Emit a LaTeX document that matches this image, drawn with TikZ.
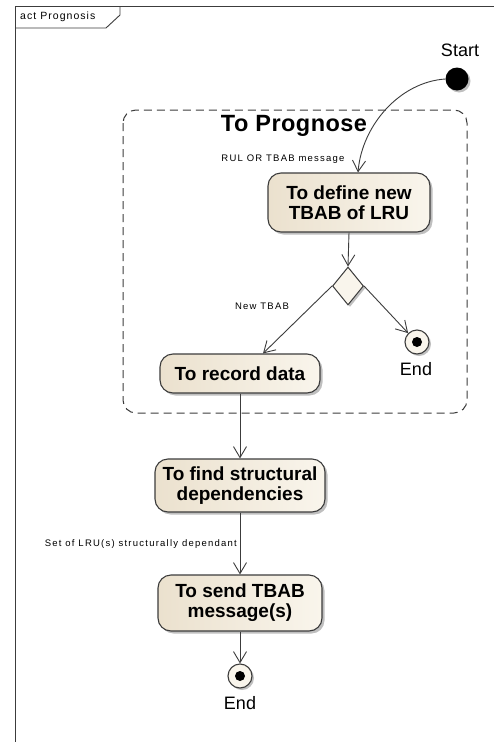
\documentclass[tikz,border=0pt]{standalone}
\usepackage{fontspec}
\setmainfont{Liberation Sans}
\usetikzlibrary{arrows.meta,shapes.geometric,shadows,calc}
\definecolor{boxdark}{HTML}{EBE1CE}
\definecolor{boxlight}{HTML}{F9F5EC}
\definecolor{edge}{HTML}{3C3C3C}
\tikzset{
  x=1pt,y=-1pt,
  arr/.style={draw=edge,line width=0.9pt,-{Straight Barb[length=11pt,width=13pt,line width=0.9pt]}},
  actbox/.style={draw=edge,line width=1.1pt,rounded corners=13pt,left color=boxdark,right color=boxlight,
    align=center,font=\fontsize{19}{20}\selectfont\bfseries,inner sep=0pt,
    drop shadow={shadow xshift=2.5pt,shadow yshift=-2.5pt,fill=black,opacity=0.25}},
  smalltxt/.style={font=\fontsize{9.5}{11}\selectfont\addfontfeature{LetterSpace=13},inner sep=0pt},
  endlbl/.style={font=\fontsize{18}{19}\selectfont,inner sep=0pt},
  finalnode/.style={circle,draw=edge,line width=1.1pt,fill=boxlight,minimum size=24pt,inner sep=0pt,
    drop shadow={shadow xshift=2pt,shadow yshift=-2pt,fill=black,opacity=0.25}},
}
\begin{document}
\begin{tikzpicture}
\useasboundingbox (0,0) rectangle (494,742);
\fill[white] (0,0) rectangle (494,742);
% frame
\draw[edge,line width=0.9pt] (494,6) -- (15,6) -- (15,742);
\draw[edge,line width=0.9pt] (15,28) -- (106,28) -- (120,15) -- (120,6);
\node[anchor=west,font=\fontsize{10.5}{12}\selectfont\addfontfeature{LetterSpace=10},inner sep=0pt] (title) at (20,17) {act Prognosis};
% group
\draw[edge,line width=1pt,dash pattern=on 8pt off 5pt,rounded corners=13pt] (123,110) rectangle (467,413);
\node[font=\fontsize{23.5}{26}\selectfont\bfseries\addfontfeature{LetterSpace=2},inner sep=0pt] (grp) at (294,126) {To Prognose};
% start
\node[circle,fill=black,minimum size=23pt,inner sep=0pt,
  drop shadow={shadow xshift=2pt,shadow yshift=-2pt,fill=black,opacity=0.25}] (start) at (457,79) {};
\node[endlbl] (startlbl) at (460,50) {Start};
% actions
\node[actbox,minimum width=162pt,minimum height=59pt] (define) at (349,202.5) {To define new\\TBAB of LRU};
\node[diamond,draw=edge,line width=1pt,fill=boxlight,minimum width=31pt,minimum height=38pt,inner sep=0pt,
  drop shadow={shadow xshift=2pt,shadow yshift=-2pt,fill=black,opacity=0.25}] (dec) at (348,286) {};
\node[actbox,minimum width=160pt,minimum height=39pt] (record) at (240,373.5) {To record data};
\node[finalnode] (end1) at (417,342) {};
\fill (end1) circle (5pt);
\node[endlbl] (end1lbl) at (416,369) {End};
\node[actbox,minimum width=170pt,minimum height=53pt] (find) at (240,485.5) {To find structural\\dependencies};
\node[actbox,minimum width=164pt,minimum height=56pt] (send) at (240,603) {To send TBAB\\message(s)};
\node[finalnode] (end2) at (240,676) {};
\fill (end2) circle (5pt);
\node[endlbl] (end2lbl) at (240,703) {End};
% labels
\node[smalltxt] (l1) at (283,159) {RUL OR TBAB message};
\node[smalltxt] (l2) at (262,306) {New TBAB};
\node[smalltxt,anchor=east] (l3) at (237,544) {Set of LRU(s) structurally dependant};
% connectors
\coordinate (defin) at ($(define.north)+(9,0)$);
\draw[arr] (start.west) .. controls (400,82) and (362,125) .. (defin);
\draw[arr] (define.south) -- (dec.north);
\coordinate (recin) at ($(record.north)+(23,0)$);
\draw[arr] (dec.west) -- (recin);
\draw[arr] (dec.east) -- (end1.north west);
\draw[arr] (record.south) -- (find.north);
\draw[arr] (find.south) -- (send.north);
\draw[arr] (send.south) -- (end2.north);
\end{tikzpicture}
\end{document}
